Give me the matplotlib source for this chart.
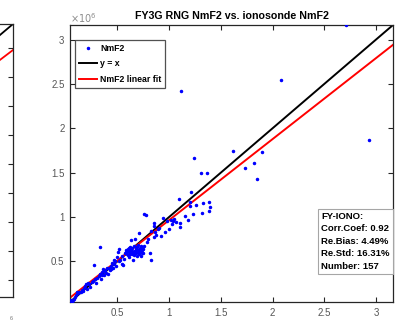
import numpy as np
import matplotlib

matplotlib.use("Agg")
import matplotlib.pyplot as plt
from matplotlib.ticker import FuncFormatter

plt.rcParams["font.family"] = ["Liberation Sans", "DejaVu Sans"]

# NmF2 pairs, in units of 1e6 (ionosonde on x, FY3G RNG on y)
iono_nmf2 = [
    0.05, 0.055, 0.06, 0.07, 0.08, 0.09, 0.10, 0.11, 0.12, 0.13, 0.15, 0.16,
    0.18, 0.19, 0.20, 0.21, 0.22, 0.23, 0.24, 0.25, 0.26, 0.275, 0.28, 0.29,
    0.32, 0.335, 0.34, 0.35, 0.35, 0.36, 0.37, 0.375, 0.38, 0.39, 0.40, 0.41,
    0.42, 0.43, 0.44, 0.45, 0.46, 0.47, 0.48, 0.49, 0.50, 0.51, 0.52, 0.53,
    0.54, 0.545, 0.55, 0.56,
    0.57, 0.58, 0.59, 0.60, 0.60, 0.61, 0.61, 0.62, 0.62, 0.63, 0.63, 0.64,
    0.64, 0.65, 0.65, 0.66, 0.66, 0.67, 0.67, 0.68, 0.68, 0.69, 0.69, 0.70,
    0.70, 0.71, 0.71, 0.72, 0.72, 0.73, 0.73, 0.74, 0.74, 0.75, 0.75, 0.76,
    0.76, 0.78, 0.79,
    0.58, 0.60, 0.62, 0.64, 0.66, 0.68, 0.70, 0.72, 0.74, 0.61, 0.67, 0.73,
    0.17, 0.30, 0.33, 0.44, 0.47, 0.52, 0.86, 0.90, 0.98, 1.02, 0.80,
    0.82, 0.83, 0.83, 0.85, 0.85, 0.85, 0.87, 0.89, 0.92, 0.94, 0.96, 1.00,
    1.03, 1.04, 1.05, 1.07, 1.10, 1.11, 1.11, 1.12, 1.15, 1.18, 1.20, 1.20,
    1.21, 1.23, 1.24, 1.26, 1.31, 1.32, 1.33, 1.37, 1.39, 1.39, 1.40,
    1.62, 1.73, 1.82, 1.85, 1.90, 2.08, 2.71, 2.93,
]
fy3g_nmf2 = [
    0.05, 0.06, 0.045, 0.07, 0.08, 0.10, 0.12, 0.155, 0.14, 0.15, 0.16, 0.18,
    0.20, 0.22, 0.25, 0.19, 0.26, 0.24, 0.21, 0.27, 0.28, 0.455, 0.30, 0.26,
    0.33, 0.665, 0.30, 0.38, 0.35, 0.41, 0.39, 0.35, 0.40, 0.37, 0.42, 0.36,
    0.43, 0.40, 0.45, 0.48, 0.42, 0.47, 0.50, 0.45, 0.55, 0.61, 0.64, 0.52,
    0.47, 0.56, 0.46, 0.53,
    0.60, 0.63, 0.58, 0.64, 0.57, 0.62, 0.55, 0.66, 0.60, 0.63, 0.74, 0.58,
    0.65, 0.61, 0.52, 0.67, 0.57, 0.62, 0.75, 0.64, 0.60, 0.66, 0.56, 0.63,
    0.69, 0.58, 0.82, 0.65, 0.61, 0.67, 0.56, 0.63, 0.65, 0.64, 0.60, 1.03,
    0.67, 1.02, 0.72,
    0.61, 0.62, 0.58, 0.62, 0.60, 0.66, 0.61, 0.63, 0.60, 0.65, 0.62, 0.65,
    0.17, 0.31, 0.36, 0.41, 0.52, 0.50, 0.83, 0.88, 0.95, 0.97, 0.75,
    0.59, 0.52, 0.84, 0.93, 0.90, 0.77, 0.80, 0.86, 0.79, 0.99, 0.83, 0.87,
    0.92, 0.95, 0.98, 0.94, 1.20, 0.93, 0.89, 2.42, 1.01, 0.97, 1.12, 1.17,
    1.28, 1.03, 1.66, 1.14, 1.50, 1.04, 1.16, 1.50, 1.17, 1.07, 1.11,
    1.75, 1.55, 1.61, 1.43, 1.73, 2.54, 3.16, 1.87,
]

fit_slope = 0.913
fit_intercept = 0.052  # 1e6
axis_lim = (0.042, 3.165)  # 1e6
tick_values = [0.5, 1, 1.5, 2, 2.5, 3]

stats_lines = [
    "FY-IONO:",
    "Corr.Coef: 0.92",
    "Re.Bias: 4.49%",
    "Re.Std: 16.31%",
    "Number: 157",
]

# neighbouring panel, only its right edge is inside the crop
left_lim = (0.207, 4.914)
left_ticks = [0.5, 1, 1.5, 2, 2.5, 3, 3.5, 4, 4.5]
left_fit_slope = 0.9
left_fit_intercept = 0.043
left_stats_lines = [
    "FY-IONO:",
    "Corr.Coef: 0.94",
    "Re.Bias: 3.35%",
    "Re.Std: 15.2%",
    "Number: 157",
]

scale = 1e6
W, H = 416, 321
axis_color = "#262626"
tick_color = "#555555"


def fig_box(x0, y0, x1, y1):
    return [x0 / W, 1 - y1 / H, (x1 - x0) / W, (y1 - y0) / H]


def style_axes(ax, lim, ticks):
    ax.set_xlim(lim[0] * scale, lim[1] * scale)
    ax.set_ylim(lim[0] * scale, lim[1] * scale)
    ax.set_xticks([t * scale for t in ticks])
    ax.set_yticks([t * scale for t in ticks])
    fmt = FuncFormatter(lambda v, _: f"{v / scale:g}")
    ax.xaxis.set_major_formatter(fmt)
    ax.yaxis.set_major_formatter(fmt)
    ax.tick_params(direction="in", length=3.5, width=0.8, color=axis_color,
                   top=True, right=True, labelsize=7, labelcolor=tick_color,
                   pad=4)
    for spine in ax.spines.values():
        spine.set_linewidth(0.9)
        spine.set_color(axis_color)


fig = plt.figure(figsize=(W / 100, H / 100), dpi=100)

# partial left panel
ax_l = fig.add_axes(fig_box(-310, 24, 13, 297))
style_axes(ax_l, left_lim, left_ticks)
ax_l.tick_params(labelbottom=False, labelleft=False)
lx = np.array(left_lim) * scale
ax_l.plot(lx, lx, color="black", lw=1.3)
ax_l.plot(lx, left_fit_slope * lx + left_fit_intercept * scale, color="red", lw=1.3)
ax_l.text(-0.235, 0.325, "\n".join(left_stats_lines), transform=ax_l.transAxes,
          fontsize=6.8, fontweight="bold", va="top", ha="left", linespacing=1.5,
          bbox=dict(boxstyle="square,pad=0.35", fc="white", ec="#a6a6a6", lw=0.8))
fig.text(11 / W, 1 - 319 / H, "6", fontsize=4, color="#777777", ha="center", va="center")

# main panel
ax = fig.add_axes(fig_box(70, 25, 393, 302))
style_axes(ax, axis_lim, tick_values)

x = np.array(iono_nmf2) * scale
y = np.array(fy3g_nmf2) * scale
line_x = np.array(axis_lim) * scale

ax.plot(x, y, ".", color="blue", markersize=3, label="NmF2", zorder=3)
ax.plot(line_x, line_x, color="black", lw=1.4, label="y = x", zorder=2)
ax.plot(line_x, fit_slope * line_x + fit_intercept * scale, color="red", lw=1.4,
        label="NmF2 linear fit", zorder=2)

ax.set_title("FY3G RNG NmF2 vs. ionosonde NmF2", fontsize=7.7, fontweight="bold",
             pad=4)
ax.text(0.0, 1.0, r"$\times10^{6}$", transform=ax.transAxes, fontsize=7,
        color="#8c8c8c", ha="left", va="bottom")

leg = ax.legend(loc="upper left", bbox_to_anchor=(0.0155, 0.946),
                prop={"weight": "bold", "size": 6.3}, frameon=True, fancybox=False,
                handlelength=2.1, handletextpad=0.3, borderpad=0.45,
                labelspacing=0.75, borderaxespad=0.0, markerscale=1.0)
leg.get_frame().set_edgecolor(axis_color)
leg.get_frame().set_linewidth(0.9)

ax.text(0.7775, 0.325, "\n".join(stats_lines), transform=ax.transAxes, fontsize=6.8,
        fontweight="bold", va="top", ha="left", linespacing=1.5,
        bbox=dict(boxstyle="square,pad=0.35", fc="white", ec="#a6a6a6", lw=0.8))

fig.savefig("out.png", dpi=100)
